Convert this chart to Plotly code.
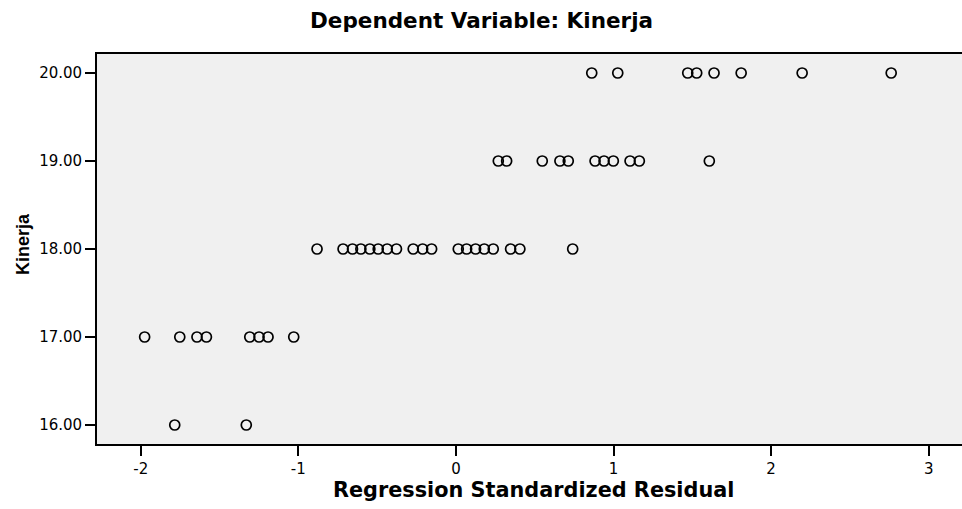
import plotly.graph_objects as go

resid_20 = [0.862, 1.027, 1.471, 1.528, 1.638, 1.810, 2.197, 2.762]
resid_19 = [0.269, 0.322, 0.548, 0.660, 0.713, 0.883, 0.940, 0.999, 1.105, 1.164, 1.608]
resid_18 = [-0.881, -0.716, -0.656, -0.603, -0.546, -0.493, -0.436, -0.377,
            -0.271, -0.211, -0.154, 0.015, 0.068, 0.125, 0.180, 0.237,
            0.347, 0.406, 0.741]
resid_17 = [-1.975, -1.752, -1.643, -1.583, -1.308, -1.249, -1.192, -1.029]
resid_16 = [-1.784, -1.330]

x_vals = resid_20 + resid_19 + resid_18 + resid_17 + resid_16
y_vals = ([20] * len(resid_20) + [19] * len(resid_19) + [18] * len(resid_18)
          + [17] * len(resid_17) + [16] * len(resid_16))

x_ticks = [-2, -1, 0, 1, 2, 3]
y_ticks = [16, 17, 18, 19, 20]

# figure is slightly wider than the 962px window so the plot area runs off the right edge
W, H = 968, 509
ML, MR, MT, MB = 97, 0, 54, 65
PW, PH = W - ML - MR, H - MT - MB
X0_PX, X_UNIT = 455.9, 157.6


def px_x(px):
    return (px - ML) / PW


def px_y(py):
    return (H - MB - py) / PH


fig = go.Figure()
fig.add_trace(go.Scatter(
    x=x_vals, y=y_vals, mode="markers",
    marker=dict(symbol="circle-open", size=10, color="black",
                line=dict(color="black", width=1.7)),
    showlegend=False, hoverinfo="x+y"))

wide = "DejaVu Sans, Verdana, sans-serif"
arial = "Liberation Sans, Arial, sans-serif"

fig.update_layout(
    width=W, height=H,
    margin=dict(l=ML, r=MR, t=MT, b=MB, autoexpand=False),
    paper_bgcolor="white",
    plot_bgcolor="#f0f0f0",
    font=dict(family=wide, color="black", size=15),
    xaxis=dict(range=[(ML - X0_PX) / X_UNIT, (W - MR - X0_PX) / X_UNIT],
               tickvals=x_ticks, ticktext=[str(t) for t in x_ticks],
               showgrid=False, zeroline=False, showline=True, linecolor="black",
               linewidth=1.8, mirror=True, ticks="outside", ticklen=10, tickwidth=1.8,
               tickcolor="black", tickfont=dict(size=15, family=wide), automargin=False),
    yaxis=dict(range=[15.784, 20.216], tickvals=y_ticks,
               ticktext=["%.2f" % t for t in y_ticks],
               showgrid=False, zeroline=False, showline=True, linecolor="black",
               linewidth=1.8, mirror=False, ticks="outside", ticklen=10, tickwidth=1.8,
               tickcolor="black", tickfont=dict(size=15, family=wide), automargin=False),
    annotations=[
        dict(text="<b>Dependent Variable: Kinerja</b>", xref="paper", yref="paper",
             x=px_x(481), y=px_y(20), xanchor="center", yanchor="middle",
             showarrow=False, font=dict(size=21.5, family=wide, color="black")),
        dict(text="<b>Regression Standardized Residual</b>", xref="paper", yref="paper",
             x=px_x(533), y=px_y(490), xanchor="center", yanchor="middle",
             showarrow=False, font=dict(size=20.8, family=wide, color="black")),
        dict(text="<b>Kinerja</b>", xref="paper", yref="paper",
             x=px_x(23), y=px_y(244), xanchor="center", yanchor="middle",
             showarrow=False, textangle=-90,
             font=dict(size=18, family=arial, color="black")),
    ],
)

fig.write_html(
    "out.html",
    config={"displayModeBar": False},
    post_script=("document.body.style.margin='0';"
                 "document.body.style.overflow='hidden';"
                 "document.documentElement.style.overflow='hidden';"),
)
